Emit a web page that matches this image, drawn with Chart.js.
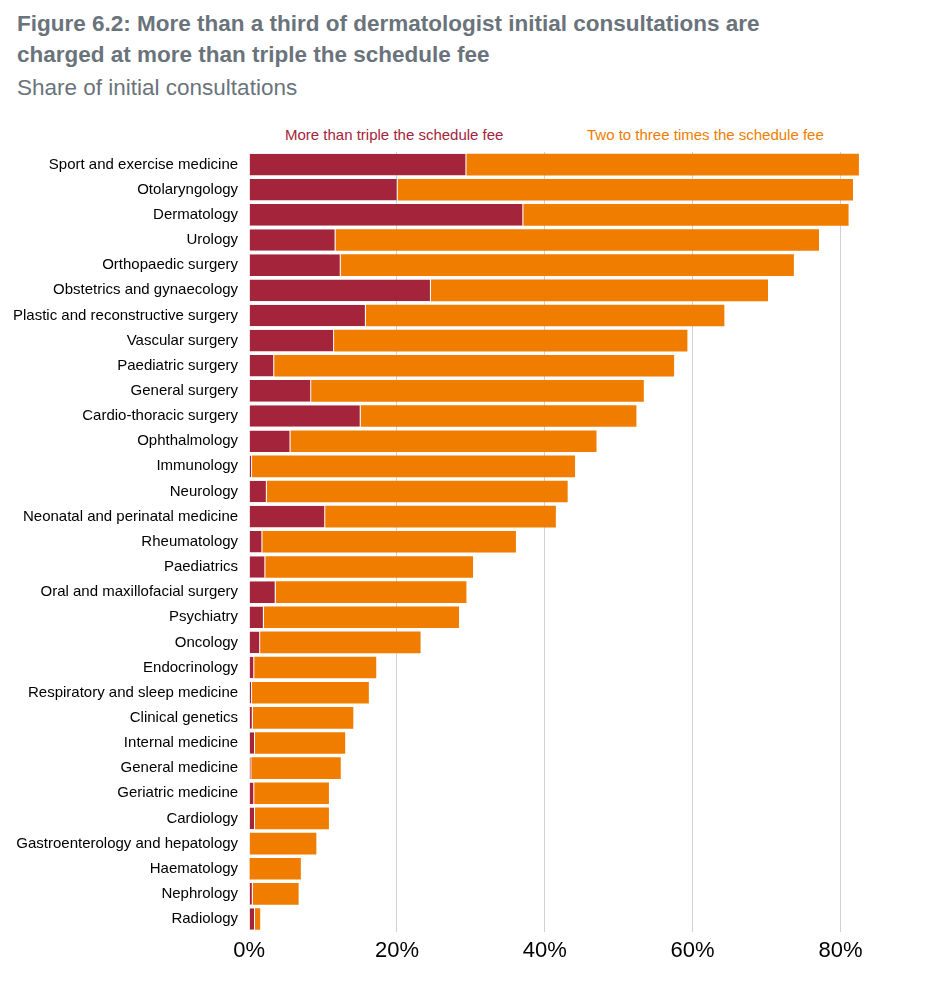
<!DOCTYPE html>
<html><head><meta charset="utf-8">
<script src="https://cdn.jsdelivr.net/npm/chart.js@4"></script>
<style>
body{margin:0;background:#fff;font-family:"Liberation Sans",Arial,sans-serif;}
#title{position:absolute;left:17px;top:8px;font-size:22.5px;font-weight:bold;color:#6a737b;line-height:31px;}
#sub{position:absolute;left:17px;top:75px;font-size:22.5px;color:#6a737b;}
.lg{position:absolute;top:126px;font-size:15px;}
#wrap{position:absolute;left:0;top:140px;width:900px;height:830px;}
</style></head><body>
<div id="title">Figure 6.2: More than a third of dermatologist initial consultations are<br>charged at more than triple the schedule fee</div>
<div id="sub">Share of initial consultations</div>
<div class="lg" style="left:285px;color:#a4243b">More than triple the schedule fee</div>
<div class="lg" style="left:587px;color:#f07d00">Two to three times the schedule fee</div>
<div id="wrap"><canvas id="c"></canvas></div>
<script>
const specialties = ["Sport and exercise medicine","Otolaryngology","Dermatology","Urology","Orthopaedic surgery","Obstetrics and gynaecology","Plastic and reconstructive surgery","Vascular surgery","Paediatric surgery","General surgery","Cardio-thoracic surgery","Ophthalmology","Immunology","Neurology","Neonatal and perinatal medicine","Rheumatology","Paediatrics","Oral and maxillofacial surgery","Psychiatry","Oncology","Endocrinology","Respiratory and sleep medicine","Clinical genetics","Internal medicine","General medicine","Geriatric medicine","Cardiology","Gastroenterology and hepatology","Haematology","Nephrology","Radiology"];
const moreThanTriple = [29.4,20.1,37.1,11.7,12.4,24.6,15.8,11.5,3.4,8.4,15.1,5.6,0.4,2.4,10.3,1.8,2.2,3.6,2.0,1.5,0.7,0.4,0.5,0.8,0.3,0.7,0.8,0.1,0,0.5,0.8];
const twoToThree = [53.1,61.6,44.0,65.4,61.3,45.6,48.5,47.8,54.1,45.0,37.3,41.4,43.7,40.7,31.2,34.3,28.1,25.8,26.4,21.7,16.5,15.8,13.6,12.2,12.1,10.1,10.0,9.0,7.0,6.2,0.7];
const xTicks = [0,20,40,60,80];

new Chart(document.getElementById("c"), {
  type: "bar",
  data: { labels: specialties, datasets: [
    { label: "More than triple the schedule fee", data: moreThanTriple, backgroundColor: "#a4243b",
      borderColor: "#fff", borderWidth: {right: 1}, borderSkipped: false, barPercentage: 0.86, categoryPercentage: 1 },
    { label: "Two to three times the schedule fee", data: twoToThree, backgroundColor: "#f07d00",
      borderWidth: 0, barPercentage: 0.86, categoryPercentage: 1 },
  ]},
  options: {
    indexAxis: "y", responsive: true, maintainAspectRatio: false, animation: false,
    layout: { padding: { left: 10, right: 30, top: 0 } },
    scales: {
      x: { stacked: true, min: 0, max: 84,
        afterBuildTicks: (a) => { a.ticks = xTicks.map((v) => ({ value: v })); },
        ticks: { callback: (v) => v + "%", color: "#000", font: { family: "Liberation Sans", size: 22 }, padding: 6 },
        grid: { color: (c) => (c.tick && c.tick.value === 0 ? "rgba(0,0,0,0)" : "#d0d0d0"), drawTicks: false },
        border: { display: false } },
      y: { stacked: true,
        ticks: { color: "#000", font: { family: "Liberation Sans", size: 15 }, autoSkip: false },
        grid: { display: false }, border: { display: false } },
    },
    plugins: { legend: { display: false }, tooltip: { enabled: false } },
  },
});
</script></body></html>
